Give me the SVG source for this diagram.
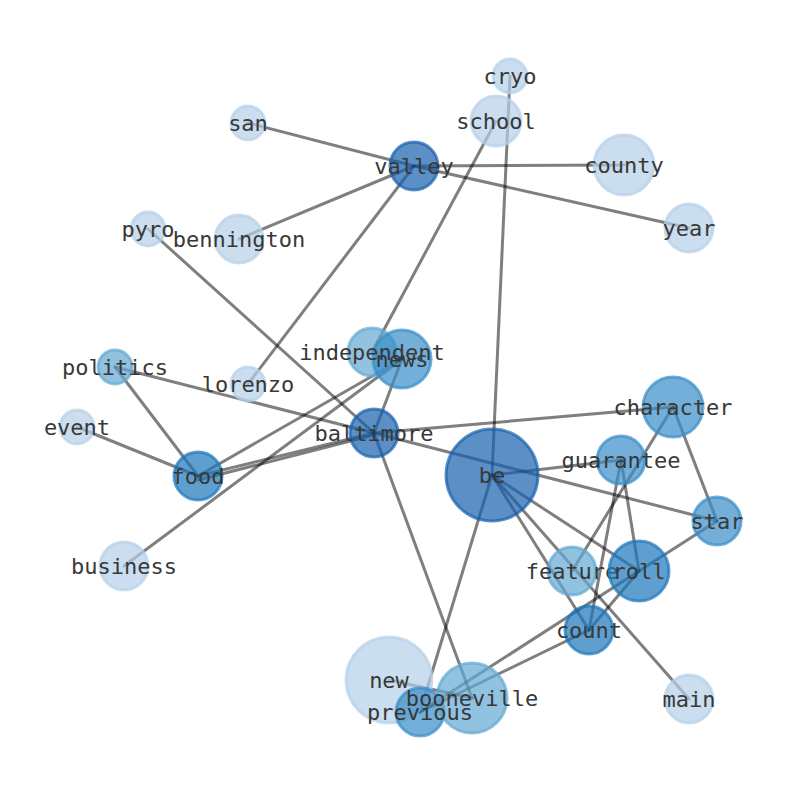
<svg xmlns="http://www.w3.org/2000/svg" width="794" height="790" viewBox="0 0 794 790">
<style>
.e{stroke:#000;stroke-opacity:0.5;stroke-width:3;fill:none;stroke-linecap:round}
circle{stroke-width:3;fill-opacity:0.7;stroke-opacity:0.7}
.c1{fill:#b5d0e8;stroke:#b5d0e8}
.c2{fill:#63a8d1;stroke:#63a8d1}
.c3{fill:#388dc7;stroke:#388dc7}
.c4{fill:#1b76bb;stroke:#1b76bb}
.c5{fill:#1560ac;stroke:#1560ac}
text{font-family:"DejaVu Sans Mono","Liberation Mono",monospace;font-size:22px;fill:#383838;text-anchor:middle;dominant-baseline:central}
</style>
<rect width="794" height="790" fill="#fff"/>
<g id="edges">
<line class="e" x1="248" y1="123" x2="414" y2="166"/>
<line class="e" x1="414" y1="166" x2="624" y2="165"/>
<line class="e" x1="414" y1="166" x2="689" y2="228"/>
<line class="e" x1="414" y1="166" x2="239" y2="239"/>
<line class="e" x1="414" y1="166" x2="248" y2="384"/>
<line class="e" x1="510" y1="76" x2="492" y2="475"/>
<line class="e" x1="496" y1="121" x2="372" y2="352"/>
<line class="e" x1="148" y1="229" x2="374" y2="433"/>
<line class="e" x1="115" y1="367" x2="374" y2="433"/>
<line class="e" x1="115" y1="367" x2="198" y2="476"/>
<line class="e" x1="77" y1="427" x2="198" y2="476"/>
<line class="e" x1="198" y1="476" x2="374" y2="433"/>
<line class="e" x1="198" y1="480" x2="374" y2="435"/>
<line class="e" x1="198" y1="476" x2="402" y2="359"/>
<line class="e" x1="124" y1="566" x2="402" y2="359"/>
<line class="e" x1="402" y1="359" x2="374" y2="433"/>
<line class="e" x1="374" y1="433" x2="673" y2="407"/>
<line class="e" x1="374" y1="433" x2="717" y2="521"/>
<line class="e" x1="374" y1="433" x2="472" y2="698"/>
<line class="e" x1="492" y1="475" x2="621" y2="460"/>
<line class="e" x1="492" y1="475" x2="639" y2="571"/>
<line class="e" x1="492" y1="475" x2="589" y2="630"/>
<line class="e" x1="492" y1="475" x2="689" y2="699"/>
<line class="e" x1="492" y1="475" x2="420" y2="712"/>
<line class="e" x1="673" y1="407" x2="572" y2="571"/>
<line class="e" x1="673" y1="407" x2="717" y2="521"/>
<line class="e" x1="621" y1="460" x2="589" y2="630"/>
<line class="e" x1="621" y1="460" x2="639" y2="571"/>
<line class="e" x1="639" y1="571" x2="717" y2="521"/>
<line class="e" x1="589" y1="630" x2="639" y2="571"/>
<line class="e" x1="420" y1="712" x2="639" y2="571"/>
<line class="e" x1="420" y1="712" x2="589" y2="630"/>
<line class="e" x1="389" y1="680" x2="472" y2="698"/>
</g>
<g id="n-cryo"><circle class="c1" cx="510" cy="76" r="17"/><text x="510" y="76">cryo</text></g>
<g id="n-school"><circle class="c1" cx="496" cy="121" r="25"/><text x="496" y="121">school</text></g>
<g id="n-san"><circle class="c1" cx="248" cy="123" r="17"/><text x="248" y="123">san</text></g>
<g id="n-valley"><circle class="c5" cx="414" cy="166" r="24"/><text x="414" y="166">valley</text></g>
<g id="n-county"><circle class="c1" cx="624" cy="165" r="30"/><text x="624" y="165">county</text></g>
<g id="n-pyro"><circle class="c1" cx="148" cy="229" r="17"/><text x="148" y="229">pyro</text></g>
<g id="n-bennington"><circle class="c1" cx="239" cy="239" r="24"/><text x="239" y="239">bennington</text></g>
<g id="n-year"><circle class="c1" cx="689" cy="228" r="24"/><text x="689" y="228">year</text></g>
<g id="n-independent"><circle class="c2" cx="372" cy="352" r="24"/></g>
<g id="n-news"><circle class="c3" cx="402" cy="359" r="29"/></g>
<g id="n-politics"><circle class="c2" cx="115" cy="367" r="17"/><text x="115" y="367">politics</text></g>
<g id="n-lorenzo"><circle class="c1" cx="248" cy="384" r="17"/><text x="248" y="384">lorenzo</text></g>
<g id="n-character"><circle class="c3" cx="673" cy="407" r="30"/><text x="673" y="407">character</text></g>
<g id="n-event"><circle class="c1" cx="77" cy="427" r="17"/><text x="77" y="427">event</text></g>
<g id="n-baltimore"><circle class="c5" cx="374" cy="433" r="24"/><text x="374" y="433">baltimore</text></g>
<g id="n-be"><circle class="c5" cx="492" cy="475" r="46"/><text x="492" y="475">be</text></g>
<g id="n-guarantee"><circle class="c3" cx="621" cy="460" r="24"/><text x="621" y="460">guarantee</text></g>
<g id="n-food"><circle class="c4" cx="198" cy="476" r="24"/><text x="198" y="476">food</text></g>
<g id="n-star"><circle class="c3" cx="717" cy="521" r="24"/><text x="717" y="521">star</text></g>
<g id="n-business"><circle class="c1" cx="124" cy="566" r="24"/><text x="124" y="566">business</text></g>
<g id="n-feature"><circle class="c2" cx="572" cy="571" r="24"/><text x="572" y="571">feature</text></g>
<g id="n-roll"><circle class="c4" cx="639" cy="571" r="30"/><text x="639" y="571">roll</text></g>
<g id="n-count"><circle class="c4" cx="589" cy="630" r="24"/><text x="589" y="630">count</text></g>
<g id="n-new"><circle class="c1" cx="389" cy="680" r="43"/><text x="389" y="680">new</text></g>
<g id="n-previous"><circle class="c3" cx="420" cy="712" r="24"/></g>
<g id="n-booneville"><circle class="c2" cx="472" cy="698" r="35"/><text x="472" y="698">booneville</text></g>
<g id="n-main"><circle class="c1" cx="689" cy="699" r="24"/><text x="689" y="699">main</text></g>
<g id="labels">
<text x="372" y="352">independent</text>
<text x="402" y="359">news</text>
<text x="420" y="712">previous</text>
</g>
</svg>
